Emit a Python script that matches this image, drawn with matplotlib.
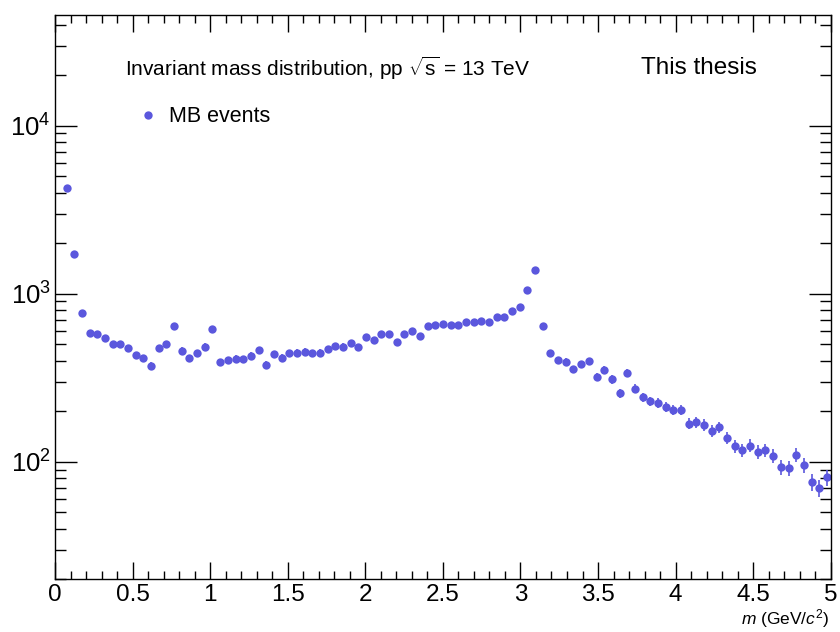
import numpy as np
import matplotlib
matplotlib.use('Agg')
import matplotlib.pyplot as plt
from matplotlib.lines import Line2D
from matplotlib.ticker import MultipleLocator, LogLocator, FuncFormatter, NullFormatter

plt.rcParams['font.family'] = ['Liberation Sans', 'DejaVu Sans']
plt.rcParams['mathtext.fontset'] = 'custom'
plt.rcParams['mathtext.rm'] = 'Liberation Sans'
plt.rcParams['mathtext.it'] = 'Liberation Sans:italic'

# histogram binning: 101 bins over 0-5 GeV/c^2, first bin empty
m_min, m_max, n_bins = 0.0, 5.0, 101

# counts per bin, bins 1..100
counts = [
    4240, 1720, 766, 586, 577, 545, 500, 502, 477, 430,
    413, 373, 473, 504, 644, 458, 413, 442, 484, 617,
    392, 401, 410, 408, 428, 464, 379, 438, 417, 442,
    446, 452, 442, 446, 467, 490, 484, 511, 480, 551,
    532, 578, 578, 516, 573, 597, 560, 640, 654, 663,
    651, 651, 676, 676, 688, 676, 730, 727, 792, 836,
    1048, 1378, 640, 442, 403, 394, 355, 380, 396, 319,
    353, 309, 257, 337, 272, 242, 229, 224, 212, 203,
    203, 169, 172, 166, 153, 161, 139, 124, 117, 125,
    115, 117, 109, 93, 92, 110, 96, 76, 70, 81,
]

edges = np.linspace(m_min, m_max, n_bins + 1)
centers = 0.5 * (edges[:-1] + edges[1:])
x = centers[1:]
y = np.array(counts, dtype=float)
yerr = np.sqrt(y)

col = '#5b57dd'

fig = plt.figure(figsize=(8.4, 6.32), dpi=100)
ax = fig.add_axes([0.0655, 0.0834, 0.9235, 0.8929])

ax.errorbar(x, y, yerr=yerr, fmt='o', color=col, ms=6.0, mew=0,
            elinewidth=1.2, capsize=0)

ax.set_yscale('log')
ax.set_xlim(m_min, m_max)
ax.set_ylim(20, 4.56e4)

ax.xaxis.set_major_locator(MultipleLocator(0.5))
ax.xaxis.set_minor_locator(MultipleLocator(0.1))
ax.xaxis.set_major_formatter(FuncFormatter(lambda v, p: '%g' % v))
ax.yaxis.set_major_locator(LogLocator(base=10, numticks=10))
ax.yaxis.set_minor_locator(LogLocator(base=10, subs=np.arange(2, 10), numticks=20))
ax.yaxis.set_minor_formatter(NullFormatter())
ax.yaxis.set_major_formatter(FuncFormatter(lambda v, p: r'$10^{%d}$' % round(np.log10(v))))

ax.tick_params(which='both', direction='in', top=True, right=True, width=1.0, colors='black')
ax.tick_params(axis='x', which='major', length=12, pad=3.5, labelsize=17.5)
ax.tick_params(axis='x', which='minor', length=6)
ax.tick_params(axis='y', which='major', length=15.5, pad=3, labelsize=18.5)
ax.tick_params(axis='y', which='minor', length=7.7)
for s in ax.spines.values():
    s.set_linewidth(1.0)

fig.text(0.987, 0.003, r'$m$ (GeV/$c^{2}$)', ha='right', va='bottom', fontsize=12.5)

fig.text(0.149, 0.892, r'Invariant mass distribution, pp $\sqrt{\mathrm{s}}$ = 13 TeV',
         ha='left', va='center', fontsize=15)
fig.text(0.763, 0.893, 'This thesis', ha='left', va='center', fontsize=17.5)

# legend entry shows only the marker
handle = Line2D([], [], ls='none', marker='o', color=col, ms=6.0, mew=0)
ax.legend([handle], ['MB events'], loc='center left', bbox_to_anchor=(0.163, 0.815),
          bbox_transform=fig.transFigure, frameon=False, fontsize=15.5,
          handletextpad=0.5, borderaxespad=0, handlelength=1.0, borderpad=0)

fig.savefig('out.png', dpi=100)
